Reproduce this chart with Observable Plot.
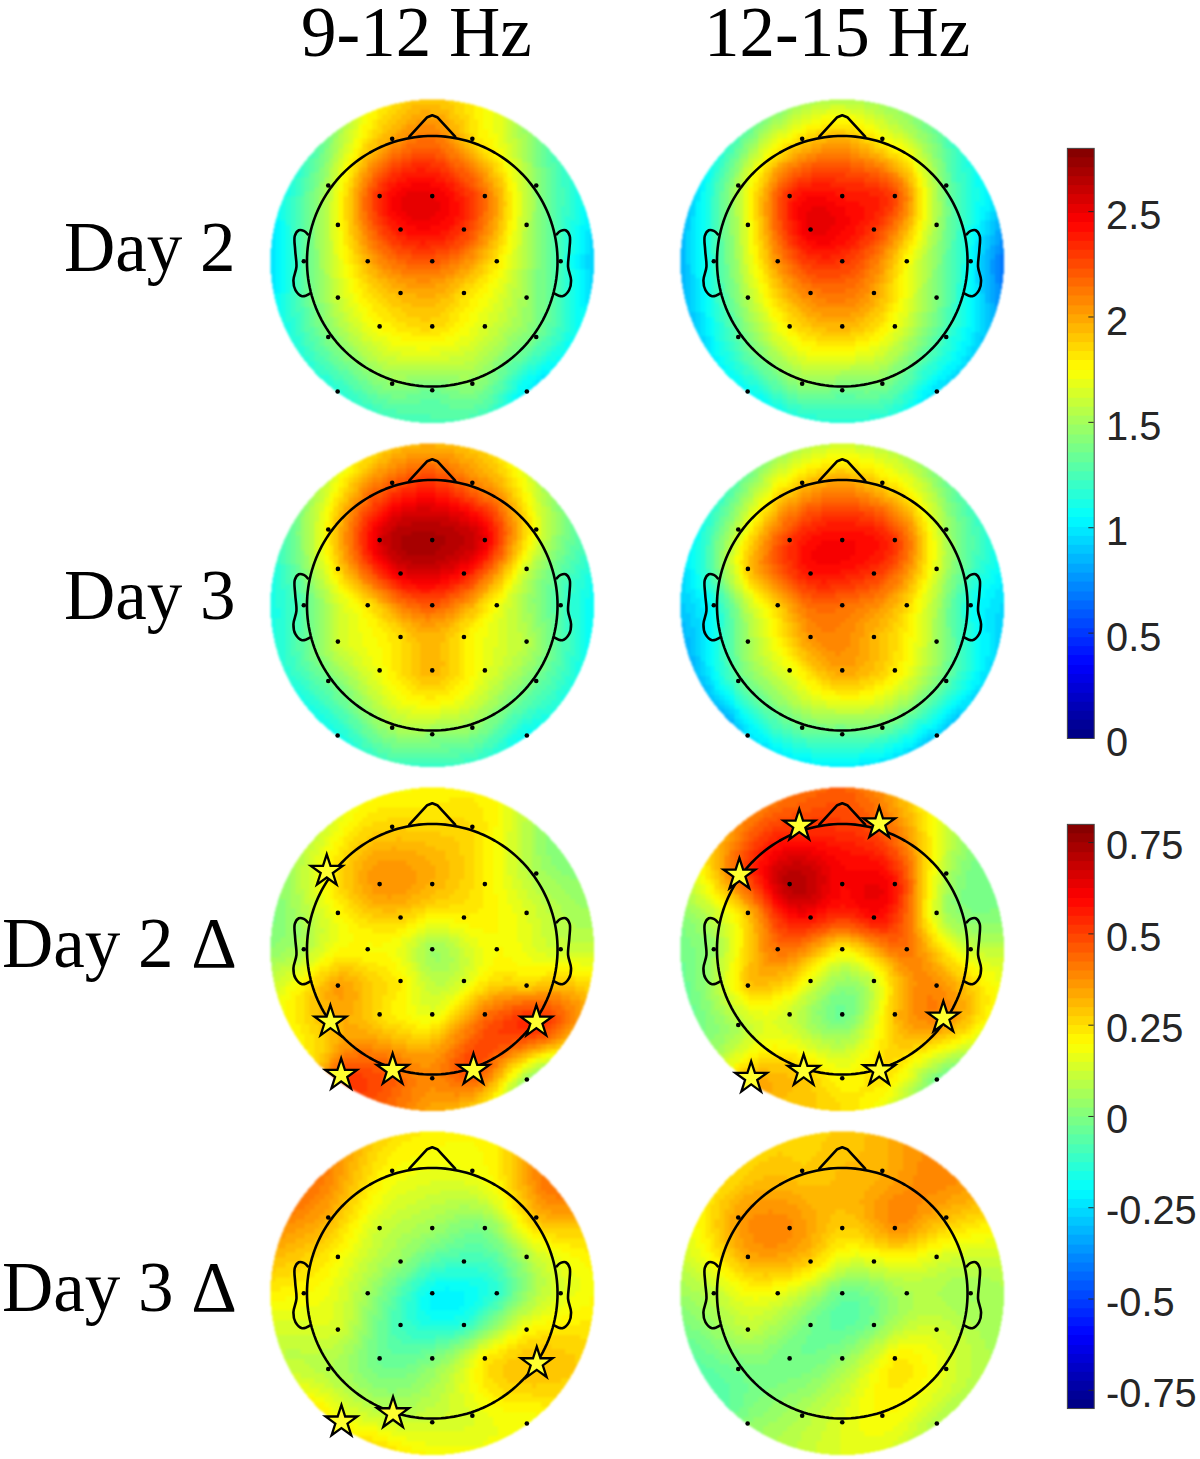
<!DOCTYPE html>
<html>
<head>
<meta charset="utf-8">
<script src="https://cdn.jsdelivr.net/npm/d3@7"></script>
<script src="https://cdn.jsdelivr.net/npm/@observablehq/plot@0.6"></script>
<style>
  html, body { margin: 0; padding: 0; background: #fff; }
  #page { position: relative; width: 1200px; height: 1459px; overflow: hidden; background: #fff; }
  .plot { position: absolute; }
  .plot svg { display: block; background: transparent; overflow: visible; }
  .head svg image { filter: blur(0.9px); }
  .lab { position: absolute; font-family: "Liberation Serif", serif; font-size: 71px; line-height: 70px; color: #000; white-space: nowrap; }
</style>
</head>
<body>
<div id="page"></div>
<script>
// Electrode names and head-unit positions (head circle radius = 1)
const names = ["Fpz","Fp1","Fp2","F7","F8","F3","Fz","F4","FC5","FC6","FC1","FC2","T7","C3","Cz","C4","T8","CP5","CP1","CP2","CP6","P3","Pz","P4","P7","P8","O1","Oz","O2","PO9","PO10"];
const electrodeX = [0,-0.32,0.32,-0.83,0.83,-0.42,0,0.42,-0.753,0.753,-0.253,0.253,-1.025,-0.515,0,0.515,1.025,-0.753,-0.253,0.253,0.753,-0.42,0,0.42,-0.83,0.83,-0.32,0,0.32,-0.755,0.755];
const electrodeY = [1.03,0.977,0.977,0.605,0.605,0.52,0.52,0.52,0.29,0.29,0.253,0.253,0,0,0,0,0,-0.29,-0.253,-0.253,-0.29,-0.52,-0.52,-0.52,-0.605,-0.605,-0.977,-1.03,-0.977,-1.04,-1.04];
// Rim control directions, degrees clockwise from the nose
const rimAngles = [0,22.5,45,67.5,90,112.5,135,157.5,180,202.5,225,247.5,270,292.5,315,337.5];
const rimRadius = 1.291;

// Values: 31 electrodes, then 16 rim samples
const day2Low = [2.1,2.0,1.85,1.55,1.45,2.35,2.5,2.15,1.72,1.55,2.4,2.3,1.3,1.97,2.2,1.8,1.2,1.6,1.95,1.85,1.48,1.75,1.85,1.65,1.4,1.35,1.45,1.35,1.45,1.15,1.0,
  1.9,1.7,1.3,1.1,0.9,1.05,1.0,1.2,1.25,1.2,1.15,1.1,0.95,1.1,1.3,1.75];
const day2High = [1.9,1.85,1.75,1.55,1.35,2.35,2.4,2.25,1.7,1.5,2.5,2.3,1.2,2.05,2.3,1.75,1.05,1.55,2.1,2.0,1.4,1.8,1.95,1.7,1.3,1.2,1.45,1.35,1.4,1.05,0.95,
  1.55,1.45,1.2,1.0,0.65,0.85,0.95,1.1,1.15,1.1,1.05,0.9,0.85,0.95,1.2,1.45];
const day3Low = [2.25,2.2,2.1,1.8,1.7,2.55,2.68,2.5,1.85,1.6,2.5,2.4,1.3,1.82,2.2,1.72,1.25,1.62,1.85,1.8,1.55,1.72,1.95,1.68,1.35,1.35,1.5,1.45,1.45,1.1,1.05,
  1.95,1.85,1.5,1.25,1.05,1.1,1.1,1.15,1.2,1.2,1.1,1.15,1.1,1.25,1.55,1.85];
const day3High = [1.95,1.9,1.85,1.6,1.5,2.3,2.45,2.3,1.9,1.65,2.4,2.3,1.1,1.88,2.15,1.85,1.1,1.5,2.05,1.95,1.5,1.7,2.0,1.8,1.3,1.3,1.35,1.3,1.35,0.95,0.9,
  1.6,1.55,1.3,1.15,0.95,0.95,0.9,0.95,1.0,1.0,0.85,0.85,0.9,1.05,1.25,1.5];
const day2DeltaLow = [0.25,0.27,0.25,0.22,0.07,0.37,0.32,0.22,0.2,0.15,0.27,0.22,0.08,0.2,0.05,0.2,0.12,0.35,0.22,0.15,0.28,0.25,0.17,0.42,0.3,0.55,0.45,0.38,0.48,0.5,0.03,
  0.2,0.2,0.02,0.03,0.12,0.35,0.1,0.2,0.33,0.48,0.28,0.2,0.03,0.03,0.12,0.2];
const day2DeltaHigh = [0.5,0.52,0.45,0.45,0.08,0.72,0.6,0.57,0.3,0.12,0.58,0.58,0.05,0.42,0.22,0.42,0.12,0.28,0.17,0.13,0.38,0.12,-0.03,0.3,0.08,0.35,0.28,0.2,0.25,0.33,-0.02,
  0.45,0.3,0.08,-0.02,0.1,0.2,0.02,0.1,0.25,0.3,0.15,-0.03,-0.02,0.12,0.35,0.42];
const day3DeltaLow = [0.18,0.2,0.18,0.32,0.3,0.12,0.05,0.0,0.2,0.08,0.03,-0.1,0.2,0.05,-0.2,-0.12,0.15,0.13,-0.1,-0.12,0.2,-0.03,0.0,0.22,0.08,0.3,0.1,0.13,0.15,0.2,0.18,
  0.22,0.22,0.42,0.27,0.2,0.27,0.22,0.18,0.2,0.25,0.22,0.1,0.22,0.36,0.42,0.28];
const day3DeltaHigh = [0.3,0.28,0.32,0.35,0.3,0.38,0.27,0.37,0.33,0.15,0.27,0.15,0.1,0.17,-0.03,0.07,0.05,0.1,-0.02,0.0,0.13,-0.02,0.03,0.22,-0.02,0.15,0.08,0.15,0.2,0.02,0.08,
  0.28,0.35,0.38,0.2,0.07,0.07,0.08,0.13,0.15,0.08,-0.05,-0.05,0.05,0.18,0.25,0.27];

// Significance stars, head units
const starsDay2Low = [[-0.842,0.624],[-0.813,-0.579],[0.831,-0.579],[-0.316,-0.964],[0.329,-0.964],[-0.727,-1.004]];
const starsDay2High = [[-0.343,0.986],[0.295,1.004],[-0.821,0.595],[0.807,-0.547],[-0.308,-0.972],[0.295,-0.967],[-0.727,-1.028]];
const starsDay3Low = [[0.834,-0.56],[-0.313,-0.959],[-0.725,-1.025]];

// Head outline, head units
const noseX = [-0.183,-0.04,0,0.04,0.183];
const noseY = [0.994,1.15,1.165,1.15,0.994];
const earX = [-0.993,-1.025,-1.065,-1.097,-1.094,-1.084,-1.108,-1.092,-1.039,-0.977];
const earY = [0.215,0.242,0.247,0.202,0.088,-0.045,-0.151,-0.231,-0.279,-0.258];

// Colour scales
const powerDomain = [0, 2.8];
const powerTicks = [0, 0.5, 1, 1.5, 2, 2.5];
const deltaDomain = [-0.8, 0.8];
const deltaTicks = [-0.75, -0.5, -0.25, 0, 0.25, 0.5, 0.75];

const levels = 64;
const clamp01 = v => Math.max(0, Math.min(1, v));
const jetTable = d3.range(levels).map(i => {
  const t = (i + 0.5) / levels;
  const c = k => Math.round(255 * clamp01(1.5 - Math.abs(4 * t - k)));
  return `rgb(${c(3)},${c(2)},${c(1)})`;
});
const jet = t => jetTable[Math.max(0, Math.min(levels - 1, Math.floor(t * levels)))];

// Biharmonic spline through the sampled values, evaluated on the map's coarse grid, masked to the disk
function solve(A, b) {
  const n = b.length;
  for (let i = 0; i < n; ++i) {
    let p = i;
    for (let r = i + 1; r < n; ++r) if (Math.abs(A[r][i]) > Math.abs(A[p][i])) p = r;
    [A[i], A[p]] = [A[p], A[i]]; [b[i], b[p]] = [b[p], b[i]];
    for (let r = i + 1; r < n; ++r) {
      const f = A[r][i] / A[i][i];
      if (f === 0) continue;
      for (let c = i; c < n; ++c) A[r][c] -= f * A[i][c];
      b[r] -= f * b[i];
    }
  }
  const x = new Float64Array(n);
  for (let i = n - 1; i >= 0; --i) {
    let s = b[i];
    for (let c = i + 1; c < n; ++c) s -= A[i][c] * x[c];
    x[i] = s / A[i][i];
  }
  return x;
}
const green = (dx, dy) => { const r2 = dx * dx + dy * dy; return r2 > 0 ? r2 * (0.5 * Math.log(r2) - 1) : 0; };
const gridSize = 67;
function headField(index, width, height, X, Y, V) {
  const px = Array.from(index, i => X[i] / width), py = Array.from(index, i => Y[i] / height), pv = Array.from(index, i => V[i]);
  const A = px.map((x, i) => px.map((x2, j) => green(x - x2, py[i] - py[j])));
  const w = solve(A, pv.slice());
  const grid = new Float64Array(gridSize * gridSize);
  for (let r = 0; r < gridSize; ++r) for (let c = 0; c < gridSize; ++c) {
    const gx = (c + 0.5) / gridSize, gy = (r + 0.5) / gridSize;
    let s = 0;
    for (let k = 0; k < w.length; ++k) s += w[k] * green(gx - px[k], gy - py[k]);
    grid[r * gridSize + c] = s;
  }
  const out = new Float64Array(width * height);
  const R = width / 2;
  for (let j = 0; j < height; ++j) for (let i = 0; i < width; ++i) {
    const dx = i + 0.5 - R, dy = j + 0.5 - height / 2;
    out[j * width + i] = dx * dx + dy * dy > R * R ? NaN
      : grid[Math.floor(j / height * gridSize) * gridSize + Math.floor(i / width * gridSize)];
  }
  return out;
}

const page = document.getElementById("page");
const circle = d3.range(0, 361, 2).map(a => [Math.sin(a * Math.PI / 180), Math.cos(a * Math.PI / 180)]);
const electrodes = names.map((name, i) => ({name, x: electrodeX[i], y: electrodeY[i]}));
const rimPoints = rimAngles.map(a => ({x: rimRadius * Math.sin(a * Math.PI / 180), y: rimRadius * Math.cos(a * Math.PI / 180)}));
const controlPoints = [...electrodes, ...rimPoints];
const pad = 20;
const lineWidth = 2.6;

function place(node, cls, left, top) {
  const wrap = document.createElement("div");
  wrap.className = "plot " + cls;
  wrap.style.left = left + "px";
  wrap.style.top = top + "px";
  wrap.appendChild(node);
  page.appendChild(wrap);
}

function head(values, domain, stars, cx, cy) {
  const size = 323.5 + 2 * pad;
  const plot = Plot.plot({
    width: size, height: size, margin: pad,
    x: {domain: [-rimRadius, rimRadius], axis: null},
    y: {domain: [-rimRadius, rimRadius], axis: null},
    color: {type: "linear", domain, interpolate: t => jet(t), clamp: true},
    marks: [
      Plot.raster(controlPoints, {
        x: "x", y: "y", fill: (d, i) => values[i],
        x1: -rimRadius, x2: rimRadius, y1: rimRadius, y2: -rimRadius,
        pixelSize: 1, interpolate: headField
      }),
      Plot.line(noseX.map((x, i) => [x, noseY[i]]), {stroke: "black", strokeWidth: lineWidth}),
      Plot.line(earX.map((x, i) => [x, earY[i]]), {stroke: "black", strokeWidth: lineWidth, curve: "catmull-rom"}),
      Plot.line(earX.map((x, i) => [-x, earY[i]]), {stroke: "black", strokeWidth: lineWidth, curve: "catmull-rom"}),
      Plot.line(circle, {stroke: "black", strokeWidth: lineWidth}),
      Plot.dot(electrodes.filter(e => e.name !== "Fpz"), {x: "x", y: "y", r: 2.3, fill: "black"}),
      Plot.dot(stars, {x: "0", y: "1", symbol: "star", r: 10, fill: "#ffff30", stroke: "black", strokeWidth: 2.3})
    ]
  });
  place(plot, "head", cx - size / 2, cy - size / 2);
}

function colorbar(domain, ticks, top, bottom, dy) {
  const m = 20;
  const plot = Plot.plot({
    width: 154, height: bottom - top + 2 * m,
    marginTop: m, marginBottom: m, marginLeft: 20, marginRight: 107,
    x: {domain: [0, 1], axis: null},
    y: {domain},
    color: {type: "linear", domain, interpolate: t => jet(t), clamp: true},
    marks: [
      Plot.raster({fill: (x, y) => y, x1: 0, x2: 1, y1: domain[1], y2: domain[0], pixelSize: 1}),
      Plot.ruleY(ticks, {x1: 0.8, x2: 1, stroke: "#262626", strokeWidth: 1}),
      Plot.frame({stroke: "#444", strokeWidth: 1}),
      Plot.axisY(ticks, {
        anchor: "right", tickSize: 0, tickPadding: 12, fontSize: 40, dy,
        tickFormat: String, label: null, fill: "#262626",
        fontFamily: "Liberation Sans"
      })
    ]
  });
  place(plot, "bar", 1047, top - m);
}

function label(text, opts) {
  const el = document.createElement("div");
  el.className = "lab";
  el.textContent = text;
  Object.entries(opts).forEach(([k, v]) => el.style[k] = v);
  page.appendChild(el);
}

const cols = [432, 841.5];
head(day2Low, powerDomain, [], cols[0], 261);
head(day2High, powerDomain, [], cols[1], 261);
head(day3Low, powerDomain, [], cols[0], 604.3);
head(day3High, powerDomain, [], cols[1], 604.3);
head(day2DeltaLow, deltaDomain, starsDay2Low, cols[0], 949);
head(day2DeltaHigh, deltaDomain, starsDay2High, cols[1], 948.7);
head(day3DeltaLow, deltaDomain, starsDay3Low, cols[0], 1292.3);
head(day3DeltaHigh, deltaDomain, [], cols[1], 1292.7);

colorbar(powerDomain, powerTicks, 148, 742, 5);
colorbar(deltaDomain, deltaTicks, 824, 1412, 4);

label("9-12 Hz", {left: "301px", top: "-3px"});
label("12-15 Hz", {left: "704px", top: "-3px"});
label("Day 2", {left: "64px", top: "212px"});
label("Day 3", {left: "64px", top: "560px"});
label("Day 2 Δ", {left: "2px", top: "908px"});
label("Day 3 Δ", {left: "2px", top: "1252px"});
</script>
</body>
</html>
